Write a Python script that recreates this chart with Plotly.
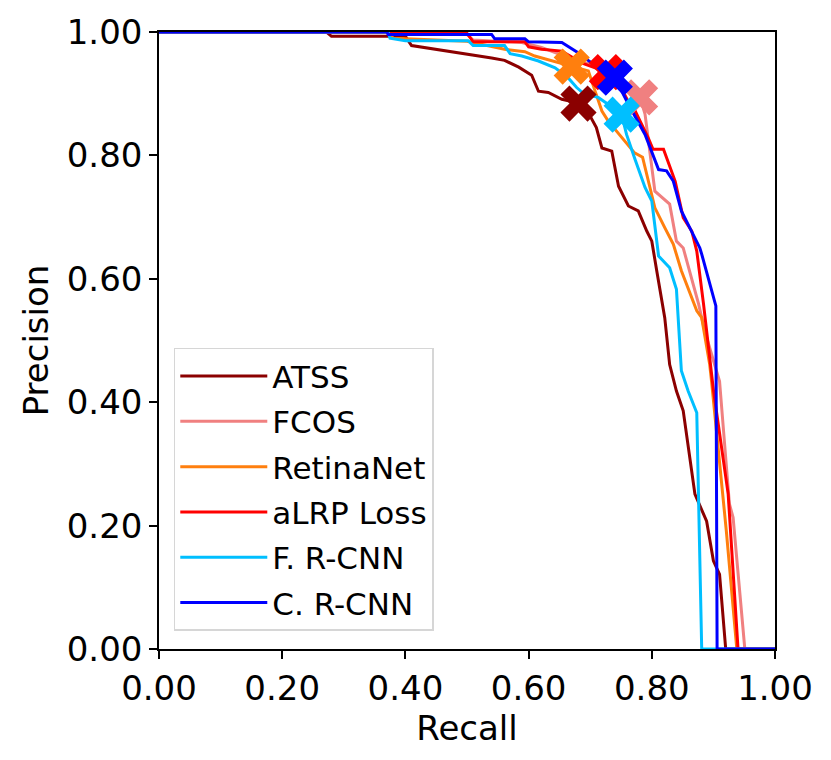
import plotly.graph_objects as go

methods = ["ATSS", "FCOS", "RetinaNet", "aLRP Loss", "F. R-CNN", "C. R-CNN"]
colors = ["#8b0000", "#f08080", "#ff7f0e", "#ff0000", "#00bfff", "#0000ff"]

atss_recall = [0, 0.272, 0.280, 0.400, 0.410, 0.443, 0.475, 0.519, 0.540, 0.561, 0.584, 0.605,
               0.616, 0.632, 0.654, 0.681, 0.697, 0.710, 0.719, 0.735, 0.746, 0.762, 0.778,
               0.792, 0.800, 0.808, 0.821, 0.829, 0.840, 0.851, 0.870, 0.889, 0.900, 0.910,
               0.920, 1.0]
atss_precision = [1.0, 1.0, 0.993, 0.993, 0.978, 0.973, 0.968, 0.962, 0.958, 0.954, 0.943, 0.930,
                  0.904, 0.902, 0.891, 0.885, 0.869, 0.845, 0.812, 0.807, 0.750, 0.718, 0.710,
                  0.677, 0.661, 0.613, 0.537, 0.461, 0.418, 0.386, 0.251, 0.207, 0.143, 0.121,
                  0.0, 0.0]

fcos_recall = [0, 0.37, 0.38, 0.50, 0.51, 0.589, 0.621, 0.686, 0.713, 0.740, 0.760, 0.781,
               0.789, 0.805, 0.829, 0.840, 0.851, 0.876, 0.886, 0.910, 0.926, 0.932, 0.951, 1.0]
fcos_precision = [1.0, 1.0, 0.996, 0.996, 0.987, 0.983, 0.975, 0.950, 0.948, 0.935, 0.915, 0.894,
                  0.867, 0.742, 0.721, 0.661, 0.650, 0.559, 0.515, 0.434, 0.235, 0.213, 0.0, 0.0]

retina_recall = [0, 0.37, 0.38, 0.50, 0.561, 0.594, 0.610, 0.670, 0.697, 0.707, 0.719, 0.729,
                 0.745, 0.772, 0.785, 0.805, 0.821, 0.835, 0.848, 0.873, 0.881, 0.894, 0.897,
                 0.921, 0.938, 1.0]
retina_precision = [1.0, 1.0, 0.990, 0.985, 0.972, 0.968, 0.961, 0.945, 0.937, 0.907, 0.872, 0.856,
                    0.836, 0.804, 0.797, 0.715, 0.683, 0.656, 0.613, 0.548, 0.537, 0.461, 0.434,
                    0.191, 0.0, 0.0]

alrp_recall = [0, 0.37, 0.38, 0.50, 0.51, 0.594, 0.600, 0.621, 0.654, 0.686, 0.727, 0.745,
               0.767, 0.773, 0.794, 0.802, 0.819, 0.838, 0.851, 0.865, 0.873, 0.884, 0.900,
               0.924, 0.940, 1.0]
alrp_precision = [1.0, 1.0, 0.998, 0.998, 0.984, 0.984, 0.976, 0.972, 0.969, 0.950, 0.935, 0.920,
                  0.877, 0.872, 0.829, 0.810, 0.810, 0.758, 0.699, 0.677, 0.645, 0.559, 0.420,
                  0.251, 0.0, 0.0]

frcnn_recall = [0, 0.372, 0.375, 0.400, 0.502, 0.510, 0.561, 0.570, 0.589, 0.616, 0.643, 0.664,
                0.678, 0.691, 0.713, 0.729, 0.751, 0.759, 0.773, 0.789, 0.800, 0.811, 0.829,
                0.840, 0.848, 0.859, 0.873, 0.881, 1.0]
frcnn_precision = [1.0, 1.0, 0.990, 0.986, 0.986, 0.978, 0.978, 0.965, 0.961, 0.953, 0.942, 0.926,
                   0.910, 0.899, 0.894, 0.883, 0.866, 0.834, 0.793, 0.748, 0.726, 0.637, 0.618,
                   0.583, 0.451, 0.418, 0.383, 0.0, 0.0]

crcnn_recall = [0, 0.370, 0.372, 0.540, 0.545, 0.594, 0.600, 0.654, 0.681, 0.702, 0.740, 0.762,
                0.789, 0.811, 0.824, 0.835, 0.848, 0.865, 0.878, 0.881, 0.904, 0.906, 1.0]
crcnn_precision = [1.0, 1.0, 0.996, 0.996, 0.989, 0.989, 0.984, 0.983, 0.966, 0.950, 0.926, 0.883,
                   0.834, 0.777, 0.775, 0.758, 0.710, 0.677, 0.650, 0.640, 0.556, 0.0, 0.0]

# operating points (X markers)
point_recall = [0.681, 0.781, 0.670, 0.727, 0.751, 0.740]
point_precision = [0.884, 0.894, 0.944, 0.935, 0.866, 0.926]

curves = [
    (atss_recall, atss_precision),
    (fcos_recall, fcos_precision),
    (retina_recall, retina_precision),
    (alrp_recall, alrp_precision),
    (frcnn_recall, frcnn_precision),
    (crcnn_recall, crcnn_precision),
]

font = "DejaVu Sans"
fig = go.Figure()

for name, color, (rx, py) in zip(methods, colors, curves):
    fig.add_trace(go.Scatter(x=rx, y=py, mode="lines", name=name,
                             line=dict(color=color, width=3), legendgroup=name))

for name, color, rx, py in zip(methods, colors, point_recall, point_precision):
    fig.add_trace(go.Scatter(x=[rx], y=[py], mode="markers", showlegend=False,
                             marker=dict(symbol="x", size=32, color=color,
                                         line=dict(width=0))))

axis_common = dict(
    range=[0, 1], tickvals=[0, 0.2, 0.4, 0.6, 0.8, 1.0], tickformat=".2f",
    showline=True, linecolor="black", linewidth=1.6, mirror=True,
    ticks="outside", ticklen=8, tickwidth=1.6, tickcolor="black", automargin=False,
    showgrid=False, zeroline=False, tickfont=dict(size=34, color="black", family=font),
)

fig.update_layout(
    width=831, height=760,
    margin=dict(l=151, r=64, t=24, b=119),
    plot_bgcolor="white", paper_bgcolor="white",
    font=dict(family=font, color="black"),
    xaxis=dict(title=dict(text="Recall", font=dict(size=34), standoff=2), **axis_common),
    yaxis=dict(title=dict(text="Precision", font=dict(size=34), standoff=8), **axis_common),
    legend=dict(x=0.024, y=0.488, xanchor="left", yanchor="top",
                bordercolor="#d6d6d6", borderwidth=1.5, bgcolor="white",
                font=dict(size=31, family=font), tracegroupgap=2, itemwidth=87),
)

fig.write_html("out.html")
